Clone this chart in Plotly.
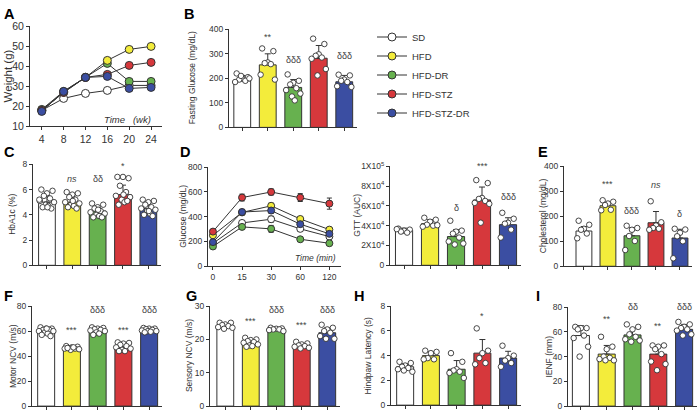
import plotly.graph_objects as go

W, H = 700, 416
FONT = "Liberation Sans, Arial, sans-serif"
INK = "#333333"

groups = ["SD", "HFD", "HFD-DR", "HFD-STZ", "HFD-STZ-DR"]
colors = ["#ffffff", "#f3ec3b", "#67b14f", "#d6383c", "#3b4ea2"]

# ---------------- Panel A: body weight ----------------
weeks = [4, 8, 12, 16, 20, 24]
weight_SD = [18, 24, 26.5, 28, 30.5, 30.5]
weight_HFD = [18, 27, 34.5, 43, 48.5, 50]
weight_HFD_DR = [18.5, 27.5, 34.5, 41.5, 32.5, 32.5]
weight_HFD_STZ = [18, 27, 34.5, 36, 40.5, 42]
weight_HFD_STZ_DR = [17.5, 27.5, 34.5, 35, 29, 29.5]

# ---------------- Panel D: glucose tolerance curve ----------------
gtt_time_labels = ["0", "15", "30", "60", "120"]
glucose_SD = [185, 350, 380, 302, 240]
glucose_HFD = [250, 435, 488, 382, 296]
glucose_HFD_DR = [160, 318, 302, 218, 186]
glucose_HFD_STZ = [280, 555, 600, 555, 506]
glucose_HFD_STZ_DR = [195, 438, 450, 340, 262]
glucose_err_SD = [10, 18, 25, 18, 14]
glucose_err_HFD = [14, 20, 22, 18, 14]
glucose_err_HFD_DR = [10, 15, 28, 15, 10]
glucose_err_HFD_STZ = [15, 28, 25, 32, 45]
glucose_err_HFD_STZ_DR = [10, 22, 22, 18, 14]

# ---------------- Bar panels ----------------
fasting_glucose_mean = [190, 255, 163, 282, 186]
fasting_glucose_err = [22, 45, 32, 52, 26]
fasting_glucose_pts = [
    [220, 205, 200, 195, 190, 185, 200, 210],
    [322, 311, 265, 262, 258, 215, 195],
    [216, 190, 182, 175, 160, 152, 138, 126, 110],
    [362, 340, 298, 292, 285, 280, 238, 212],
    [215, 212, 195, 190, 185, 168, 165],
]

hba1c_mean = [5.0, 5.0, 4.3, 5.6, 4.5]
hba1c_err = [0.5, 0.45, 0.4, 0.75, 0.4]
hba1c_pts = [
    [6.0, 5.9, 5.7, 5.5, 5.3, 5.1, 5.0, 4.8, 4.7, 4.6, 4.5, 4.6, 5.2],
    [5.8, 5.7, 5.6, 5.4, 5.2, 5.0, 4.9, 4.8, 4.7, 4.6, 4.5, 5.1],
    [4.9, 4.8, 4.6, 4.5, 4.3, 4.2, 4.1, 4.0, 3.9, 3.8, 3.8, 4.4],
    [7.0, 6.9, 7.0, 6.3, 5.8, 5.5, 5.4, 5.2, 5.0, 4.8, 5.1, 5.6],
    [5.2, 5.1, 5.0, 4.8, 4.6, 4.5, 4.4, 4.3, 4.1, 4.0, 3.9, 4.3],
]

gtt_auc_mean = [35500, 42000, 29000, 66000, 41000]
gtt_auc_err = [2000, 4000, 7000, 13000, 7000]
gtt_auc_pts = [
    [37000, 36000, 35000, 34000, 33000, 36500],
    [48000, 46000, 44000, 41000, 40000, 39000, 40500],
    [45000, 35000, 34000, 32000, 28000, 24000, 22000, 21000],
    [86000, 83000, 68000, 67000, 65000, 63000, 62000, 43000],
    [53000, 47000, 43000, 42000, 36000, 28000],
]

cholesterol_mean = [141, 242, 122, 174, 113]
cholesterol_err = [18, 14, 32, 45, 35]
cholesterol_pts = [
    [182, 166, 150, 146, 131, 112],
    [264, 258, 251, 245, 226, 224],
    [162, 153, 146, 121, 101, 65],
    [260, 176, 163, 153, 150, 146],
    [150, 147, 134, 120, 100, 32],
]

motor_ncv_mean = [60, 46, 60, 47, 60]
motor_ncv_err = [2, 1, 1.5, 2.5, 1]
motor_ncv_pts = [
    [63, 62, 62, 61, 61, 60, 60, 59, 58, 57, 56, 62],
    [48, 47.5, 47, 46.5, 46, 46, 45.5, 45, 47, 46.5],
    [63, 62.5, 62, 61.5, 61, 60.5, 60, 59, 58, 57],
    [51, 50.5, 50, 49, 48, 47, 46, 45, 44, 44],
    [62.5, 62, 62, 61.5, 61, 60.5, 60, 60, 59.5, 59],
]

sensory_ncv_mean = [24, 19, 23, 18, 22]
sensory_ncv_err = [0.8, 0.9, 0.4, 0.7, 1.5]
sensory_ncv_pts = [
    [25, 25, 24.5, 24.3, 24, 23.7, 23.5, 23.2],
    [20.5, 20, 19.8, 19.5, 19.2, 19, 18.5, 18.2, 18, 17.8],
    [23.5, 23.3, 23.2, 23, 23, 22.8, 22.5],
    [19.3, 18.8, 18.5, 18.2, 18, 17.8, 17.5, 17.3],
    [24.4, 23.5, 23, 22.5, 22, 21, 20.2, 20.2],
]

hindpaw_mean = [3.1, 4.0, 2.9, 4.2, 3.8]
hindpaw_err = [0.25, 0.3, 0.7, 1.1, 0.55]
hindpaw_pts = [
    [3.5, 3.4, 3.2, 3.1, 3.0, 2.9, 2.7, 2.8],
    [4.4, 4.3, 4.2, 3.8, 3.7, 3.7],
    [4.2, 3.5, 2.9, 2.8, 2.7, 2.6, 2.2],
    [6.2, 4.4, 4.2, 3.8, 3.4, 3.3],
    [4.8, 4.0, 3.8, 3.6, 3.4, 3.1],
]

ienf_mean = [57, 42, 57.5, 42, 62]
ienf_err = [8, 7, 5, 6, 4]
ienf_pts = [
    [64, 63, 63, 62, 57, 55, 48, 40],
    [56, 48, 46, 40, 39, 38, 37, 37],
    [66, 64, 62, 58, 56, 54, 53, 52],
    [49, 49, 48, 46, 42, 36, 34, 29],
    [68, 66, 64, 63, 62, 61, 58, 57],
]

# significance labels (text) for each group
sig_B = ["", "**", "δδδ", "***", "δδδ"]
sig_C = ["", "ns", "δδ", "*", ""]
sig_GTT = ["", "", "δ", "***", "δδδ"]
sig_E = ["", "***", "δδδ", "ns", "δ"]
sig_F = ["", "***", "δδδ", "***", "δδδ"]
sig_G = ["", "***", "δδδ", "***", "δδδ"]
sig_H = ["", "", "", "*", ""]
sig_I = ["", "**", "δδ", "**", "δδδ"]

# ---------------- layout helpers ----------------
def xd(x0, x1):
    return [x0 / W, x1 / W]

def yd(top, bot):
    return [1 - bot / H, 1 - top / H]

fig = go.Figure()
layout = {}
annotations = []
JIT = [-0.22, 0.22, 0.0, -0.12, 0.12, -0.28, 0.28, -0.05, 0.06, -0.17, 0.17, 0.02, -0.3]

def axis_common():
    return dict(showline=True, linecolor=INK, linewidth=1, ticks="outside",
                ticklen=3, tickwidth=1, tickcolor=INK, showgrid=False, zeroline=False,
                tickfont=dict(family=FONT, size=8.5, color=INK), fixedrange=True)

def add_axes(k, xdom, ydom, xrange, yrange, ytickvals, yticktext=None,
             xtickvals=None, xticktext=None, tickfont=8.5):
    xa = axis_common()
    xa.update(domain=xd(*xdom), range=xrange, anchor=f"y{k}")
    if xtickvals is not None:
        xa.update(tickmode="array", tickvals=xtickvals)
        if xticktext is not None:
            xa.update(ticktext=xticktext)
        else:
            xa.update(showticklabels=False)
    ya = axis_common()
    ya.update(domain=yd(*ydom), range=yrange, anchor=f"x{k}", tickmode="array",
              tickvals=ytickvals)
    if yticktext is not None:
        ya.update(ticktext=yticktext)
    xa["tickfont"]["size"] = tickfont
    ya["tickfont"]["size"] = tickfont
    layout[f"xaxis{k}"] = xa
    layout[f"yaxis{k}"] = ya

def ytitle(text, xpx, ydom, size=8.5):
    yc = 1 - (ydom[0] + ydom[1]) / 2 / H
    annotations.append(dict(text=text, x=xpx / W, y=yc, xref="paper", yref="paper",
                            textangle=-90, showarrow=False, xanchor="center",
                            yanchor="middle",
                            font=dict(family=FONT, size=size, color=INK)))

def letter(t, xpx, ypx):
    annotations.append(dict(text=f"<b>{t}</b>", x=xpx / W, y=1 - ypx / H,
                            xref="paper", yref="paper", showarrow=False,
                            xanchor="left", yanchor="middle",
                            font=dict(family=FONT, size=14.5, color="#000")))

def bar_panel(k, means, errs, pts, sig, sig_y):
    idx = list(range(len(means)))
    fig.add_trace(go.Bar(
        x=idx, y=means, width=0.66, xaxis=f"x{k}", yaxis=f"y{k}", showlegend=False,
        marker=dict(color=colors, line=dict(color=INK, width=1)),
        error_y=dict(type="data", array=errs, arrayminus=[0] * len(errs),
                     symmetric=False, color=INK, thickness=1, width=3),
        hoverinfo="skip"))
    xs, ys = [], []
    for i, vals in enumerate(pts):
        for j, v in enumerate(vals):
            xs.append(i + JIT[j % len(JIT)])
            ys.append(v)
    fig.add_trace(go.Scatter(
        x=xs, y=ys, mode="markers", xaxis=f"x{k}", yaxis=f"y{k}", showlegend=False,
        cliponaxis=False, hoverinfo="skip",
        marker=dict(size=5.5, color="white", line=dict(color=INK, width=0.9))))
    for i, s in enumerate(sig):
        if s:
            txt = "<i>ns</i>" if s == "ns" else s
            annotations.append(dict(text=txt, x=i, y=sig_y[i], xref=f"x{k}",
                                    yref=f"y{k}", showarrow=False, xanchor="center",
                                    yanchor="middle",
                                    font=dict(family=FONT, size=9, color="#444444")))

# ---------------- Panel A ----------------
add_axes(1, (30, 162), (21, 124), [1.85, 26.0], [10, 60], [10, 20, 30, 40, 50, 60],
         xtickvals=weeks, xticktext=[str(w) for w in weeks], tickfont=10.5)
weights = [weight_SD, weight_HFD, weight_HFD_DR, weight_HFD_STZ, weight_HFD_STZ_DR]
draw_order = [0, 2, 1, 3, 4]
for g in draw_order:
    fig.add_trace(go.Scatter(
        x=weeks, y=weights[g], mode="lines+markers", name=groups[g], xaxis="x1",
        yaxis="y1", legendrank=g + 1, cliponaxis=False,
        line=dict(color=INK, width=1),
        marker=dict(size=8, color=colors[g], line=dict(color=INK, width=1))))
annotations.append(dict(text="<i>Time   (wk)</i>", x=24.4, y=13.5, xref="x1", yref="y1",
                        showarrow=False, xanchor="right", yanchor="middle",
                        font=dict(family=FONT, size=9.5, color=INK)))
ytitle("Weight (g)", 8, (21, 124), size=11.5)
letter("A", 2, 8)

# ---------------- Panel B ----------------
add_axes(2, (229, 357), (24, 125), [-0.52, 4.5], [0, 400], [0, 100, 200, 300, 400],
         xtickvals=list(range(5)))
bar_panel(2, fasting_glucose_mean, fasting_glucose_err, fasting_glucose_pts,
          sig_B, [0, 370, 276, 437, 292])
ytitle("Fasting Glucose (mg/dL)", 192, (24, 125))
letter("B", 182, 8)

# ---------------- Panel C ----------------
add_axes(3, (33, 161), (163, 267), [-0.55, 4.5], [0, 8], [0, 2, 4, 6, 8],
         xtickvals=list(range(5)))
bar_panel(3, hba1c_mean, hba1c_err, hba1c_pts, sig_C, [0, 6.8, 6.8, 7.85, 0])
ytitle("HbA1c (%)", 12, (163, 267))
letter("C", 2, 150)

# ---------------- Panel D (curve) ----------------
add_axes(4, (208, 341), (166, 268), [-0.17, 4.4], [0, 800], [0, 200, 400, 600, 800],
         xtickvals=list(range(5)), xticktext=gtt_time_labels)
gl = [glucose_SD, glucose_HFD, glucose_HFD_DR, glucose_HFD_STZ, glucose_HFD_STZ_DR]
ge = [glucose_err_SD, glucose_err_HFD, glucose_err_HFD_DR, glucose_err_HFD_STZ,
      glucose_err_HFD_STZ_DR]
for g in draw_order:
    fig.add_trace(go.Scatter(
        x=list(range(len(gtt_time_labels))), y=gl[g], mode="lines+markers",
        xaxis="x4", yaxis="y4", showlegend=False, cliponaxis=False,
        line=dict(color=INK, width=1),
        error_y=dict(type="data", array=ge[g], color=INK, thickness=1, width=2.5),
        marker=dict(size=7, color=colors[g], line=dict(color=INK, width=1))))
annotations.append(dict(text="<i>Time (min)</i>", x=4.3, y=70, xref="x4", yref="y4",
                        showarrow=False, xanchor="right", yanchor="middle",
                        font=dict(family=FONT, size=8.5, color=INK)))
ytitle("Glucose (mg/dL)", 183, (166, 268))
letter("D", 178, 150)

# ---------------- GTT AUC ----------------
add_axes(5, (390, 521), (165, 267), [-0.54, 4.5], [0, 100000],
         [0, 20000, 40000, 60000, 80000, 100000],
         yticktext=["0", "2X10<sup>4</sup>", "4X10<sup>4</sup>", "6X10<sup>4</sup>",
                    "8X10<sup>4</sup>", "1X10<sup>5</sup>"],
         xtickvals=list(range(5)))
bar_panel(5, gtt_auc_mean, gtt_auc_err, gtt_auc_pts, sig_GTT,
          [0, 0, 58000, 100000, 68500])
ytitle("GTT (AUC)", 357, (165, 267))

# ---------------- Panel E ----------------
add_axes(6, (564, 692), (165, 268), [-0.83, 4.5], [0, 400], [0, 100, 200, 300, 400],
         xtickvals=list(range(5)))
bar_panel(6, cholesterol_mean, cholesterol_err, cholesterol_pts, sig_E,
          [0, 330, 222, 326, 211])
ytitle("Cholesterol (mg/dL)", 543, (165, 268))
letter("E", 536, 150)

# ---------------- Panel F ----------------
add_axes(7, (32, 162), (309, 412), [-0.55, 4.5], [0, 80], [0, 20, 40, 60, 80],
         xtickvals=list(range(5)))
bar_panel(7, motor_ncv_mean, motor_ncv_err, motor_ncv_pts, sig_F, [0, 61, 77, 61, 77])
ytitle("Motor NCV (m/s)", 13, (309, 412))
letter("F", 2, 299)

# ---------------- Panel G ----------------
add_axes(8, (210, 340), (309, 412), [-0.6, 4.5], [0, 30], [0, 10, 20, 30],
         xtickvals=list(range(5)))
bar_panel(8, sensory_ncv_mean, sensory_ncv_err, sensory_ncv_pts, sig_G,
          [0, 25.4, 28.9, 24.3, 28.9])
ytitle("Sensory NCV (m/s)", 189, (309, 412))
letter("G", 184, 299)

# ---------------- Panel H ----------------
add_axes(9, (391, 521), (309, 411), [-0.55, 4.5], [0, 8], [0, 2, 4, 6, 8],
         xtickvals=list(range(5)))
bar_panel(9, hindpaw_mean, hindpaw_err, hindpaw_pts, sig_H, [0, 0, 0, 7.2, 0])
ytitle("Hindpaw Latency (s)", 368, (309, 411))
letter("H", 352, 299)

# ---------------- Panel I ----------------
add_axes(10, (568, 697), (310, 412), [-0.5, 4.5], [0, 80], [0, 20, 40, 60, 80],
         xtickvals=list(range(5)))
bar_panel(10, ienf_mean, ienf_err, ienf_pts, sig_I, [0, 70, 80, 65, 80])
ytitle("IENF (mm)", 549, (310, 412))
letter("I", 534, 299)

fig.update_layout(
    width=W, height=H, margin=dict(l=0, r=0, t=0, b=0),
    paper_bgcolor="white", plot_bgcolor="white",
    font=dict(family=FONT, size=9, color=INK),
    showlegend=True,
    legend=dict(x=372 / W, y=1 - 17 / H, xanchor="left", yanchor="top",
                bgcolor="rgba(0,0,0,0)", font=dict(family=FONT, size=9.5, color=INK),
                tracegroupgap=0, itemwidth=30),
    annotations=annotations,
    **layout,
)

fig.write_html("out.html", config={"displayModeBar": False},
               post_script="document.body.style.margin='0';")
